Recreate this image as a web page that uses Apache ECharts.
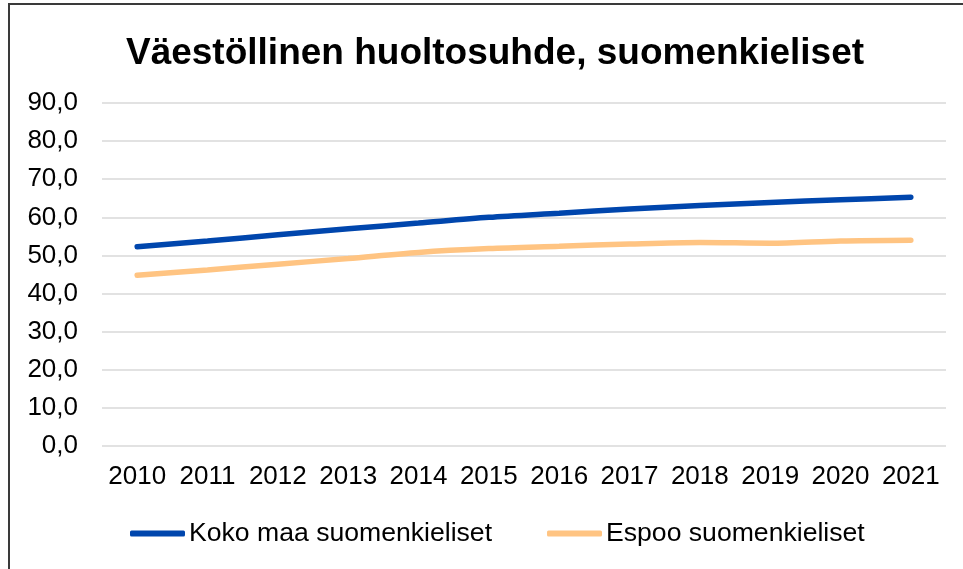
<!DOCTYPE html>
<html>
<head>
<meta charset="utf-8">
<script src="https://cdn.jsdelivr.net/npm/echarts@6/dist/echarts.min.js"></script>
<style>
  html, body { margin: 0; padding: 0; background: #fff; }
  #main { width: 963px; height: 569px; }
</style>
</head>
<body>
<div id="main"></div>
<script>
const years = ['2010', '2011', '2012', '2013', '2014', '2015', '2016', '2017', '2018', '2019', '2020', '2021'];
const kokoMaa = [52.3, 53.8, 55.4, 57.0, 58.5, 60.0, 61.1, 62.2, 63.1, 63.9, 64.6, 65.3];
const espoo = [44.8, 46.2, 47.7, 49.2, 50.8, 51.8, 52.4, 53.0, 53.4, 53.2, 53.8, 54.0];
const yTicks = { min: 0, max: 90, interval: 10 };

const chart = echarts.init(document.getElementById('main'));
const font = '"Liberation Sans", Arial, sans-serif';

chart.setOption({
  animation: false,
  backgroundColor: '#fff',
  graphic: [{
    type: 'rect',
    shape: { x: 9, y: 4, width: 1000, height: 600 },
    style: { fill: 'none', stroke: '#3a3a3a', lineWidth: 2 },
    silent: true
  }],
  title: {
    text: 'Väestöllinen huoltosuhde, suomenkieliset',
    left: 490,
    textAlign: 'center',
    top: 30,
    textStyle: { fontFamily: font, fontSize: 37, fontWeight: 'bold', color: '#000' }
  },
  grid: { left: 102, right: 17, top: 103, bottom: 123, containLabel: false },
  xAxis: {
    type: 'category',
    data: years,
    boundaryGap: true,
    axisLine: { show: false },
    axisTick: { show: false },
    axisLabel: { interval: 0, hideOverlap: false, fontFamily: font, fontSize: 26, color: '#000', margin: 18 }
  },
  yAxis: {
    type: 'value',
    min: yTicks.min,
    max: yTicks.max,
    interval: yTicks.interval,
    axisLine: { show: false },
    axisTick: { show: false },
    splitLine: { lineStyle: { color: '#d9d9d9', width: 1.5 } },
    axisLabel: {
      fontFamily: font, fontSize: 26, color: '#000', margin: 24,
      formatter: v => v.toFixed(1).replace('.', ',')
    }
  },
  legend: {
    top: 515,
    left: 125,
    itemWidth: 55,
    itemHeight: 6,
    itemGap: 55,
    icon: 'roundRect',
    textStyle: { fontFamily: font, fontSize: 26.6, color: '#000', padding: [0, 0, 0, -1] },
    padding: 5
  },
  series: [
    {
      name: 'Koko maa suomenkieliset',
      type: 'line',
      data: kokoMaa,
      smooth: 0.3,
      showSymbol: false,
      lineStyle: { color: '#0046AD', width: 5.5, cap: 'round' },
      itemStyle: { color: '#0046AD' }
    },
    {
      name: 'Espoo suomenkieliset',
      type: 'line',
      data: espoo,
      smooth: 0.3,
      showSymbol: false,
      lineStyle: { color: '#FFC482', width: 5.5, cap: 'round' },
      itemStyle: { color: '#FFC482' }
    }
  ]
});
</script>
</body>
</html>
